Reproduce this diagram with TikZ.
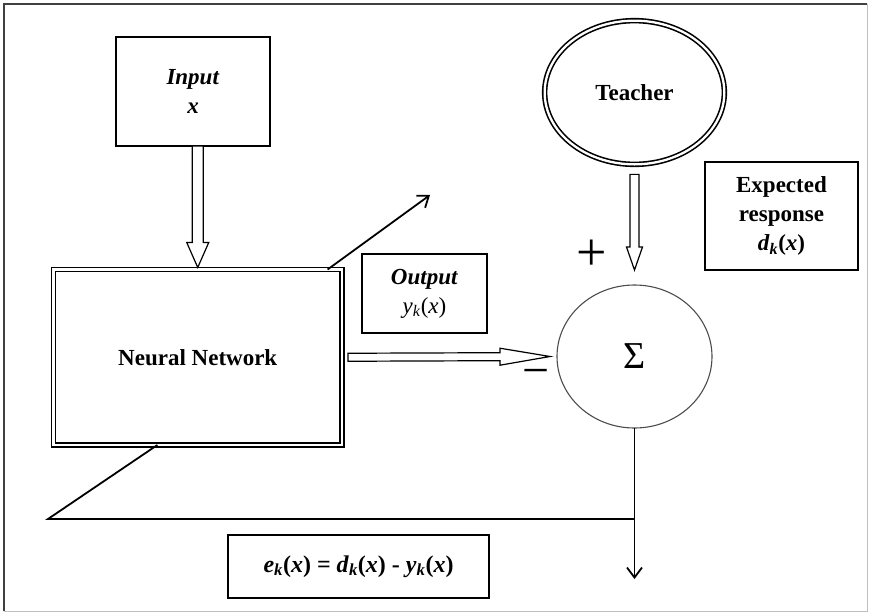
\documentclass[tikz,border=0pt]{standalone}
\usepackage{fontspec}
\setmainfont{Liberation Serif}
\usetikzlibrary{arrows.meta, positioning, calc, shapes}

\tikzset{
  box/.style={draw, line width=1.5pt, inner sep=0pt, outer sep=0pt, align=center,
    font=\fontsize{23}{29}\selectfont\bfseries},
  hollow/.style={draw, line width=1.2pt, fill=white, line join=miter},
  link/.style={line width=1.8pt},
  tip/.style={-{Straight Barb[length=10pt, width=15pt, line width=1.8pt]}}
}
% block arrow: from, to, half shaft, half head, head length
\newcommand{\hollowarrow}[5]{%
  \coordinate (hh) at ($(#2)!#5!(#1)$);
  \draw[hollow] ($(#1)!#3!90:(#2)$) -- ($(hh)!#3!90:(#2)$) -- ($(hh)!#4!90:(#2)$) -- (#2)
    -- ($(hh)!#4!-90:(#2)$) -- ($(hh)!#3!-90:(#2)$) -- ($(#1)!#3!-90:(#2)$) -- cycle;
}

\begin{document}
\begin{tikzpicture}[x=1pt, y=-1pt]
  \useasboundingbox (0,0) rectangle (871,614);
  % Frame
  \draw[black!75, line width=2pt] (4,611) -- (4,4) -- (867,4);
  \draw[black!25, line width=1pt] (867,4) -- (867,611) -- (4,611);

  % Blocks
  \node[box, minimum width=154, minimum height=109] (input) at (193,91.5)
    {\textit{Input}\\\textit{x}};
  \node[box, double, line width=1.7pt, double distance=2.2pt,
    minimum width=288.5, minimum height=175.5] (nn) at (197.75,357.25) {Neural Network};
  \node[box, minimum width=125, minimum height=79] (output) at (424.5,293.5)
    {\textit{Output}\\\textmd{\textit{y}\textsubscript{\textit{k}}(\textit{x})}};
  \node[box, ellipse, double, line width=1.6pt, double distance=2.3pt,
    minimum width=179.7, minimum height=143.7] (teacher) at (634.5,92.5) {Teacher};
  \node[box, minimum width=153, minimum height=108] (expected) at (781.5,216)
    {Expected\\response\\\textit{d}\textsubscript{\textit{k}}(\textit{x})};
  \node[box, ellipse, draw=black!70, line width=1.1pt, minimum width=155, minimum height=143,
    font=\fontsize{38}{40}\selectfont] (sum) at (634.5,356.5) {Σ};
  \node[box, minimum width=261, minimum height=63, font=\fontsize{24}{29}\selectfont\bfseries]
    (err) at (358.5,566.5)
    {\textit{e}\textsubscript{\textit{k}}(\textit{x}) = \textit{d}\textsubscript{\textit{k}}(\textit{x})
     - \textit{y}\textsubscript{\textit{k}}(\textit{x})};
  \node[font=\fontsize{54}{54}\selectfont, inner sep=0pt] (plus) at (592,255) {+};
  \node[font=\fontsize{48}{48}\selectfont, inner sep=0pt] (minus) at (536,378) {−};

  % Hollow arrows
  \coordinate (inA) at (nn.north |- input.south);
  \coordinate (inB) at ($(nn.north)+(0,-2)$);
  \hollowarrow{inA}{inB}{5.5pt}{11pt}{25pt}
  \coordinate (teA) at ($(teacher.south)+(0,10)$);
  \coordinate (teB) at ($(sum.north)+(0,-15)$);
  \hollowarrow{teA}{teB}{4.5pt}{8pt}{23pt}
  \coordinate (nnA) at ($(nn.east)+(6,0)$);
  \coordinate (nnB) at ($(sum.west)+(-7,0)$);
  \hollowarrow{nnA}{nnB}{4pt}{8.5pt}{50pt}

  % Adaptation and error lines
  \coordinate (up) at (430,195);
  \draw[link, tip] ($(nn.north west)!0.95!(nn.north east)$) -- (up);
  \path (sum.south) ++(0,151) coordinate (down);
  \coordinate (bend) at (48,519);
  \draw[link, tip] (sum.south) -- (down);
  \draw[link] (sum.south |- bend) -- (bend) -- ($(nn.south west)!0.36!(nn.south east)$);
\end{tikzpicture}
\end{document}
